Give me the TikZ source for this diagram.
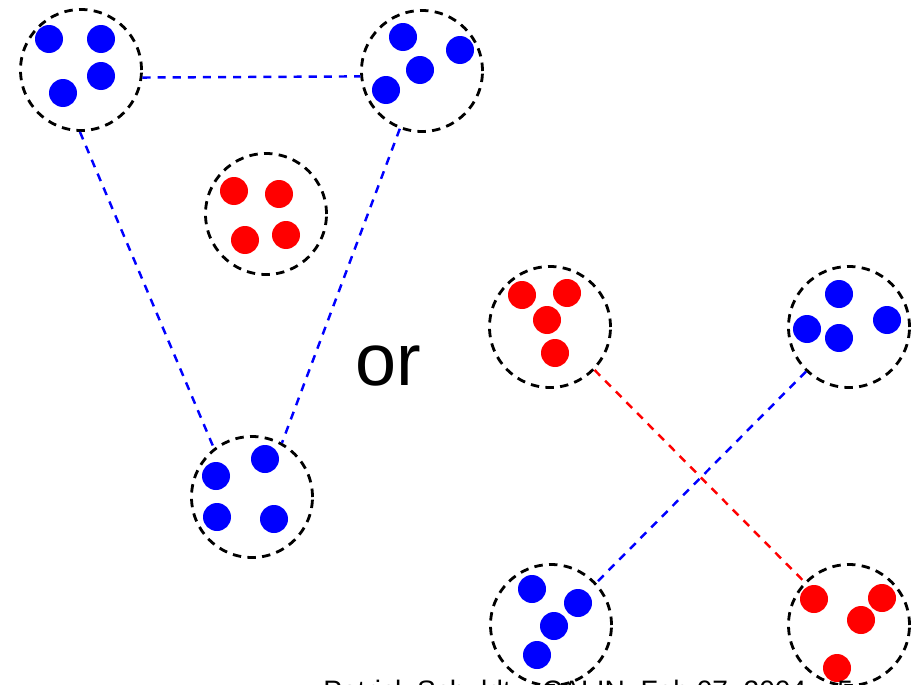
\documentclass[tikz,border=0pt]{standalone}
\usepackage{fontspec}
\setmainfont{Liberation Sans}
\definecolor{figB}{RGB}{0,0,255}
\definecolor{figR}{RGB}{255,0,0}
\tikzset{grp/.style={draw,circle,line width=1.6pt,dash pattern=on 4.8pt off 3.6pt,minimum size=24.2mm,inner sep=0pt},
  lnk/.style={line width=1.4pt,dash pattern=on 4.6pt off 4pt}}
\begin{document}
\begin{tikzpicture}[x=0.2mm,y=-0.2mm]
\useasboundingbox (0,0) rectangle (920,685);
\node[grp] (tl) at (81,70) {}; \node[grp] (tr) at (422,71) {};
\node[grp] (mid) at (266,214) {}; \node[grp] (bot) at (252,497) {};
\node[grp] (rA) at (550,327) {}; \node[grp] (bA) at (849,327) {};
\node[grp] (bB) at (551,625) {}; \node[grp] (rB) at (849,625) {};
\foreach \p in {(49,39),(101,39),(101,76),(63,93),(403,37),(460,50),(420,70),(386,90),
  (216,476),(265,459),(217,517),(274,519),(839,294),(807,329),(839,338),(887,320),
  (532,589),(578,603),(554,626),(537,655)} \fill[figB] \p circle (14);
\foreach \p in {(234,191),(279,194),(245,240),(286,235),(522,295),(567,293),(547,320),(555,353),
  (814,599),(882,598),(861,620),(837,668)} \fill[figR] \p circle (14);
\draw[lnk,figB] (tl.-7)--(tr.185);
\draw[lnk,figB] (tl.269)--(bot.128);
\draw[lnk,figB] (tr.249)--(bot.61);
\draw[lnk,figR] (rA.-44)--(rB.136);
\draw[lnk,figB] (bA.226)--(bB.43);
\node[font=\fontsize{42}{48}\selectfont] (or) at (388,366) {or};
\node[anchor=north west,font=\fontsize{16}{18}\selectfont,inner sep=0pt] (foot) at (323,680) {Patrick Schuldt -- CALIN, Feb 07, 2004 -- 5};
\end{tikzpicture}
\end{document}
